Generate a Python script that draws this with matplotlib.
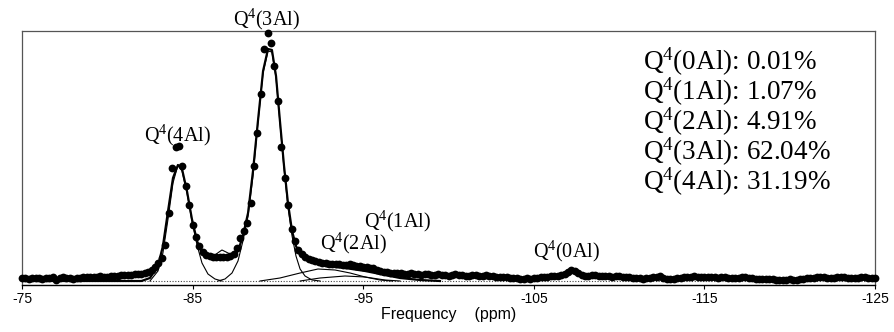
"""
29Si MAS ЯМР спектр: експериментальні точки, сумарна апроксимація та компоненти Q4(nAl).
"""

import numpy as np
import matplotlib.pyplot as plt

# Експериментальні точки: крок 0.2 ppm від -75 до -125 ppm
freq_start = -75.0
freq_step = -0.2
intensity = [
    3, 3, 2, 3, 3, 3, 2, 3, 3, 4,
    1, 3, 4, 3, 3, 2, 3, 3, 4, 4,
    4, 4, 4, 5, 4, 4, 5, 5, 5, 6,
    6, 6, 6, 7, 7, 7, 8, 9, 11, 14,
    18, 23, 36, 68, 113, 134, 135, 115, 95, 76,
    56, 44, 35, 29, 26, 25, 24, 24, 24, 24,
    24, 25, 27, 33, 43, 50, 58, 78, 115, 148,
    187, 232, 248, 238, 215, 180, 134, 103, 76, 52,
    40, 31, 27, 24, 22, 21, 20, 19, 18, 18,
    17, 17, 17, 17, 16, 16, 17, 16, 15, 15,
    14, 14, 13, 13, 11, 10, 9, 9, 8, 8,
    8, 8, 7, 7, 8, 7, 7, 6, 7, 7,
    6, 6, 7, 6, 6, 5, 6, 7, 6, 6,
    5, 5, 6, 6, 5, 5, 6, 5, 5, 4,
    4, 4, 4, 3, 3, 3, 2, 2, 3, 2,
    3, 3, 4, 4, 4, 5, 5, 5, 6, 7,
    9, 11, 10, 8, 6, 5, 5, 6, 6, 5,
    5, 5, 5, 4, 5, 5, 4, 4, 4, 3,
    3, 3, 2, 3, 3, 4, 4, 5, 3, 2,
    2, 2, 3, 3, 4, 4, 4, 5, 4, 4,
    4, 4, 4, 4, 3, 4, 4, 3, 3, 3,
    3, 4, 4, 3, 3, 2, 2, 2, 2, 2,
    2, 1, 1, 1, 1, 2, 1, 1, 2, 2,
    3, 3, 3, 4, 4, 4, 3, 3, 3, 4,
    4, 4, 3, 3, 3, 3, 4, 4, 3, 3,
    3,
]

# Сумарна апроксимація (товста лінія)
fit_ppm = [-75.0, -82.0, -82.5, -82.97, -83.26, -83.56, -83.85, -84.14, -84.38,
           -84.67, -84.96, -85.26, -85.55, -85.84, -86.31, -86.9, -87.37, -87.66,
           -87.95, -88.25, -88.54, -88.83, -89.13, -89.42, -89.65, -89.89, -90.12,
           -90.36, -90.59, -90.83, -91.06, -91.3, -91.88, -92.76, -93.93, -95.11,
           -96.28, -97.16, -98.33, -99.5]
fit_int = [0, 0, 3, 15, 35, 70, 103, 116, 112,
           90, 62, 40, 28, 24, 23, 23, 24, 30,
           45, 68, 110, 160, 210, 232, 231, 205, 160,
           115, 78, 50, 35, 26, 19, 15, 13, 10,
           6, 3, 1, 0]

# Компоненти (тонкі лінії)
comp_4al_ppm = [-82.5, -82.97, -83.26, -83.56, -83.85, -84.14, -84.38, -84.67,
                -84.96, -85.26, -85.55, -85.9, -86.31, -86.72]
comp_4al_int = [0, 10, 28, 62, 98, 116, 110, 88, 60, 36, 18, 7, 2, 0]

comp_3al_ppm = [-86.49, -86.9, -87.31, -87.66, -87.95, -88.25, -88.54, -88.83,
                -89.13, -89.42, -89.65, -89.89, -90.12, -90.36, -90.59, -90.83,
                -91.06, -91.3, -91.59, -92.0, -92.47]
comp_3al_int = [0, 2, 8, 20, 40, 65, 105, 158, 208, 230, 229, 203, 158, 112,
                74, 45, 25, 12, 5, 1, 0]

comp_2al_ppm = [-88.95, -90.12, -91.3, -92.35, -93.35, -94.23, -95.11, -95.98, -96.69]
comp_2al_int = [0, 3, 8, 12, 11, 8, 4, 1, 0]

comp_1al_ppm = [-91.3, -92.47, -93.93, -95.11, -96.28, -97.16]
comp_1al_int = [0, 3, 5, 4, 1, 0]

valley_ppm = [-85.55, -85.84, -86.31, -86.55, -86.72, -86.96, -87.31, -87.66]
valley_int = [30, 26, 26, 29, 31, 29, 26, 30]

# Підписи піків
peak_labels = ["Q$^4$(4Al)", "Q$^4$(3Al)", "Q$^4$(2Al)", "Q$^4$(1Al)", "Q$^4$(0Al)"]
peak_label_ppm = [-84.1, -89.3, -94.4, -97.0, -106.9]
peak_label_int = [146, 262, 38, 60, 30]

share_labels = ["Q$^4$(0Al): 0.01%", "Q$^4$(1Al): 1.07%", "Q$^4$(2Al): 4.91%",
                "Q$^4$(3Al): 62.04%", "Q$^4$(4Al): 31.19%"]

plt.rcParams["mathtext.fontset"] = "custom"
plt.rcParams["mathtext.rm"] = "Liberation Serif"
plt.rcParams["mathtext.it"] = "Liberation Serif"
plt.rcParams["axes.unicode_minus"] = False

freq = freq_start + freq_step * np.arange(len(intensity))

fig = plt.figure(figsize=(8.95, 3.32), dpi=100)
ax = fig.add_axes([22 / 895, 1 - 285 / 332, 853 / 895, 254 / 332])

ax.plot([-75, -125], [0, 0], color="#444444", lw=0.8, ls=(0, (1, 1.5)), zorder=1)
for xs, ys in [(comp_4al_ppm, comp_4al_int), (comp_3al_ppm, comp_3al_int),
               (comp_2al_ppm, comp_2al_int), (comp_1al_ppm, comp_1al_int),
               (valley_ppm, valley_int)]:
    ax.plot(xs, ys, color="black", lw=0.8, zorder=2)
ax.plot(fit_ppm, fit_int, color="black", lw=1.6, zorder=3)
ax.plot(freq, intensity, "o", color="black", ms=5.6, mew=0, clip_on=False, zorder=4)

ax.set_xlim(-75, -125)
ax.set_ylim(-4, 250)
ax.set_xticks([-75, -85, -95, -105, -115, -125])
ax.set_yticks([])
ax.tick_params(axis="x", direction="out", length=3, width=0.8, pad=2,
               labelsize=10)
for lbl in ax.get_xticklabels():
    lbl.set_family("Liberation Sans")
for side in ["left", "top", "right"]:
    ax.spines[side].set_color("#555555")
    ax.spines[side].set_linewidth(0.9)
ax.spines["bottom"].set_linewidth(1.0)

ax.set_xlabel("Frequency    (ppm)", family="Liberation Sans", fontsize=11.5, labelpad=1)

for text, x, y in zip(peak_labels, peak_label_ppm, peak_label_int):
    ax.text(x, y, text, ha="center", va="center", fontsize=14.5,
            family="Liberation Serif", clip_on=False)

for k, text in enumerate(share_labels):
    fig.text(643 / 895, 1 - (62 + 30 * k) / 332, text, ha="left", va="center",
             fontsize=19.5, family="Liberation Serif")

fig.savefig("out.png", dpi=100)
